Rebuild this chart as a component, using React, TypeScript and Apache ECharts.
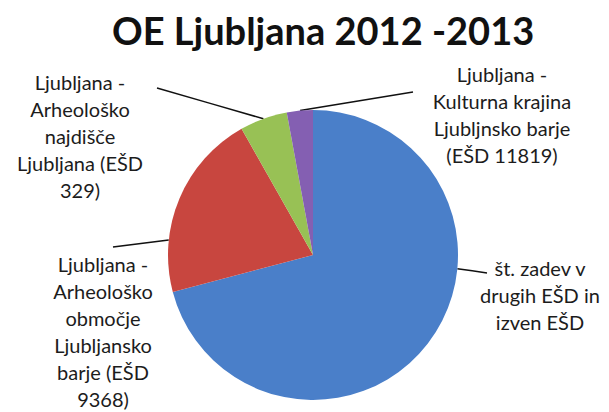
import React, { useEffect, useRef } from 'react';
import * as echarts from 'echarts';

const TITLE = 'OE Ljubljana 2012 -2013';
const CATEGORIES = [
  'št. zadev v\ndrugih EŠD in\nizven EŠD',
  'Ljubljana -\nArheološko\nobmočje\nLjubljansko\nbarje (EŠD\n9368)',
  'Ljubljana -\nArheološko\nnajdišče\nLjubljana (EŠD\n329)',
  'Ljubljana -\nKulturna krajina\nLjubljnsko barje\n(EŠD 11819)',
];
const VALUES = [70.9, 20.9, 5.3, 2.9];
const COLORS = ['#4a7fc9', '#c8463f', '#98c155', '#845fb2'];

// label layout (label centre-x / top-y, leader start, leader hit angle on the rim)
const LABEL_ANCHOR = [[540, 254], [103, 250], [80, 68], [502, 60]];
const LINE_START = [[487, 273], [113, 247], [157, 88], [413, 92]];
const LINE_HIT_ANGLE = [5.4, 185.9, 250, 264.9];
const CENTER = [313, 255];
const RADIUS = 145;

export default function App() {
  const ref = useRef<HTMLDivElement>(null);
  useEffect(() => {
    document.body.style.margin = '0';
    const chart = echarts.init(ref.current!, null, { renderer: 'svg' });
    const data = CATEGORIES.map((name, i) => ({
      name,
      value: VALUES[i],
      itemStyle: { color: COLORS[i] },
    }));
    chart.setOption({
      animation: false,
      backgroundColor: '#ffffff',
      title: {
        text: TITLE,
        left: 107,
        top: 6,
        textStyle: {
          fontFamily: 'Lato',
          fontWeight: 'bold',
          fontSize: 38,
          color: '#111',
        },
      },
      series: [
        {
          type: 'pie',
          center: CENTER,
          radius: RADIUS,
          startAngle: 90,
          clockwise: true,
          avoidLabelOverlap: false,
          data,
          itemStyle: { borderWidth: 0 },
          label: {
            show: true,
            position: 'outside',
            formatter: '{b}',
            fontFamily: 'Lato',
            fontSize: 20,
            lineHeight: 27,
            color: '#1c1c1c',
            align: 'center',
          },
          labelLine: {
            show: true,
            lineStyle: { color: '#111', width: 1.5 },
          },
          labelLayout: (params: any) => {
            const i = params.dataIndex;
            const a = (LINE_HIT_ANGLE[i] * Math.PI) / 180;
            const hit = [CENTER[0] + RADIUS * Math.cos(a), CENTER[1] + RADIUS * Math.sin(a)];
            const st = LINE_START[i];
            const mid = [(hit[0] + st[0]) / 2, (hit[1] + st[1]) / 2];
            return {
              x: LABEL_ANCHOR[i][0],
              y: LABEL_ANCHOR[i][1],
              align: 'center',
              verticalAlign: 'top',
              labelLinePoints: [hit, mid, st],
            };
          },
        },
      ],
    });
    return () => chart.dispose();
  }, []);
  return <div ref={ref} style={{ width: 609, height: 412 }} />;
}
